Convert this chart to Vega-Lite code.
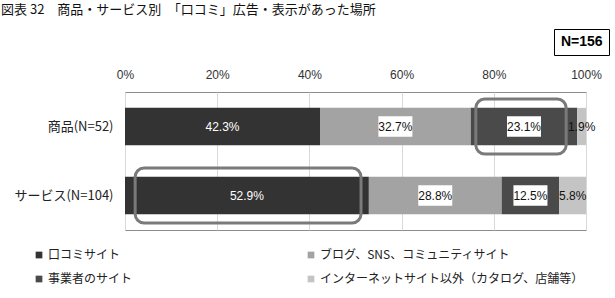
{
  "$schema": "https://vega.github.io/schema/vega-lite/v6.json",
  "autosize": {"type": "none"},
  "padding": {"left": 125, "top": 92, "right": 29, "bottom": 68},
  "width": 461,
  "height": 138,
  "background": "white",
  "title": {
    "text": "図表 32　商品・サービス別　「口コミ」広告・表示があった場所",
    "anchor": "start",
    "frame": "group",
    "dx": -124,
    "dy": -8,
    "font": "Noto Sans CJK JP",
    "fontSize": 13,
    "fontWeight": "normal",
    "color": "#111111"
  },
  "datasets": {
    "shares": [
      {"item": "商品(N=52)", "cat": "口コミサイト", "order": 1, "value": 42.3, "n": "N=156"},
      {"item": "商品(N=52)", "cat": "ブログ、SNS、コミュニティサイト", "order": 2, "value": 32.7, "n": "N=156"},
      {"item": "商品(N=52)", "cat": "事業者のサイト", "order": 3, "value": 23.1, "n": "N=156"},
      {"item": "商品(N=52)", "cat": "インターネットサイト以外（カタログ、店舗等）", "order": 4, "value": 1.9, "n": "N=156"},
      {"item": "サービス(N=104)", "cat": "口コミサイト", "order": 1, "value": 52.9, "n": "N=156"},
      {"item": "サービス(N=104)", "cat": "ブログ、SNS、コミュニティサイト", "order": 2, "value": 28.8, "n": "N=156"},
      {"item": "サービス(N=104)", "cat": "事業者のサイト", "order": 3, "value": 12.5, "n": "N=156"},
      {"item": "サービス(N=104)", "cat": "インターネットサイト以外（カタログ、店舗等）", "order": 4, "value": 5.8, "n": "N=156"}
    ],
    "highlights": [
      {"item": "商品(N=52)", "from": 76.1, "to": 95.7},
      {"item": "サービス(N=104)", "from": 2.2, "to": 51.2}
    ]
  },
  "data": {"name": "shares"},
  "transform": [
    {"stack": "value", "groupby": ["item"], "sort": [{"field": "order", "order": "ascending"}], "as": ["v0", "v1"]},
    {"calculate": "(datum.v0 + datum.v1) / 2", "as": "mid"},
    {"calculate": "datum.value + '%'", "as": "lab"}
  ],
  "encoding": {
    "y": {
      "field": "item",
      "type": "nominal",
      "sort": ["商品(N=52)", "サービス(N=104)"],
      "scale": {"paddingInner": 0.46, "paddingOuter": 0.23},
      "axis": {
        "title": null,
        "domain": false,
        "ticks": false,
        "labelFont": "Noto Sans CJK JP",
        "labelFontSize": 13,
        "labelColor": "#222222",
        "labelPadding": 12
      }
    }
  },
  "layer": [
    {
      "mark": {"type": "bar"},
      "encoding": {
        "x": {
          "field": "v0",
          "type": "quantitative",
          "scale": {"domain": [0, 100], "nice": false},
          "axis": {
            "orient": "top",
            "title": null,
            "values": [0, 20, 40, 60, 80, 100],
            "labelExpr": "datum.value + '%'",
            "labelFlush": false,
            "labelFont": "Liberation Sans",
            "labelFontSize": 12,
            "labelColor": "#333333",
            "labelPadding": 11,
            "domain": false,
            "ticks": false,
            "grid": true,
            "gridColor": "#d9d9d9"
          }
        },
        "x2": {"field": "v1"},
        "color": {
          "field": "cat",
          "type": "nominal",
          "sort": ["口コミサイト", "ブログ、SNS、コミュニティサイト", "事業者のサイト", "インターネットサイト以外（カタログ、店舗等）"],
          "scale": {
            "domain": ["口コミサイト", "ブログ、SNS、コミュニティサイト", "事業者のサイト", "インターネットサイト以外（カタログ、店舗等）"],
            "range": ["#333333", "#a3a3a3", "#4a4a4a", "#c4c4c4"]
          },
          "legend": {
            "title": null,
            "orient": "none",
            "legendX": -92,
            "legendY": 157,
            "columns": 2,
            "direction": "horizontal",
            "columnPadding": 172,
            "rowPadding": 12,
            "symbolType": "square",
            "symbolSize": 45,
            "symbolStrokeWidth": 0,
            "labelFont": "Noto Sans CJK JP",
            "labelFontSize": 12,
            "labelColor": "#222222",
            "labelOffset": 3,
            "labelLimit": 400,
            "padding": 0
          }
        },
        "opacity": {
          "field": "n",
          "type": "ordinal",
          "scale": {"range": [1, 1]},
          "legend": {
            "title": null,
            "orient": "none",
            "legendX": 429,
            "legendY": -63,
            "strokeColor": "#000000",
            "padding": 6,
            "symbolSize": 0,
            "symbolOpacity": 0,
            "symbolStrokeWidth": 0,
            "labelOffset": -13,
            "labelFont": "Liberation Sans",
            "labelFontWeight": "bold",
            "labelFontSize": 14,
            "labelColor": "#000000"
          }
        }
      }
    },
    {
      "data": {"name": "highlights"},
      "transform": [],
      "mark": {"type": "bar", "fill": null, "stroke": "#7a7a7a", "strokeWidth": 3, "cornerRadius": 9, "height": {"band": 1.48}},
      "encoding": {
        "x": {"field": "from", "type": "quantitative"},
        "x2": {"field": "to"}
      }
    },
    {
      "transform": [{"filter": "datum.order == 2 || datum.order == 3"}],
      "mark": {"type": "point", "shape": "M-1,-0.6L1,-0.6L1,0.6L-1,0.6Z", "filled": true, "fill": "white", "opacity": 1, "size": 1156, "strokeWidth": 0},
      "encoding": {
        "x": {"field": "mid", "type": "quantitative"}
      }
    },
    {
      "mark": {"type": "text", "font": "Liberation Sans Narrow, Liberation Sans", "fontSize": 12},
      "encoding": {
        "x": {"field": "mid", "type": "quantitative"},
        "text": {"field": "lab"},
        "color": {"condition": {"test": "datum.order == 1", "value": "white"}, "value": "#111111"}
      }
    }
  ],
  "config": {
    "view": {"stroke": "#8c8c8c", "strokeWidth": 1}
  }
}
